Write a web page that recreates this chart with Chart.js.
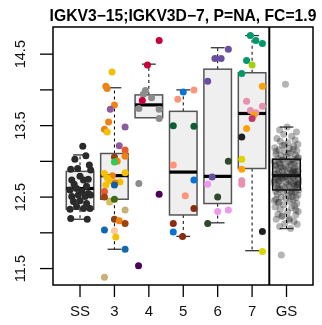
<!DOCTYPE html>
<html>
<head>
<meta charset="utf-8">
<script src="https://cdn.jsdelivr.net/npm/chart.js@4.4.0/dist/chart.umd.min.js"></script>
<style>
html, body { margin: 0; padding: 0; background: #fff; }
#chart { display: block; }
</style>
</head>
<body>
<canvas id="chart" width="322" height="325"></canvas>
<script>
// ---------------------------- Données ----------------------------
const titleText = 'IGKV3\u221215;IGKV3D\u22127, P=NA, FC=1.9';
const categories = ['SS', '3', '4', '5', '6', '7', 'GS'];
const yTicks = [11.5, 12, 12.5, 13, 13.5, 14, 14.5];
const yTickLabels = ['11.5', '', '12.5', '', '13.5', '', '14.5'];

// statistiques des boîtes (moustache basse, Q1, médiane, Q3, moustache haute)
const boxLow = [12.19, 11.77, 13.61, 11.95, 12.14, 11.75, 12.06];
const boxQ1 = [12.33, 12.47, 13.61, 12.25, 12.41, 12.90, 12.60];
const boxMed = [12.62, 12.80, 13.79, 12.85, 12.79, 13.67, 12.80];
const boxQ3 = [12.86, 13.11, 13.93, 13.70, 14.29, 14.24, 13.03];
const boxHigh = [13.09, 14.03, 14.36, 14.00, 14.59, 14.76, 13.48];

// SS
const ssValues = [13.21, 13.03, 13.08, 12.89, 12.90, 12.95, 12.88, 12.74, 12.79, 12.74,
    12.75, 12.68, 12.60, 12.62, 12.58, 12.65, 12.55, 12.51, 12.53, 12.51,
    12.53, 12.44, 12.45, 12.41, 12.33, 12.37, 12.34, 12.34, 12.20, 12.19];
const ssJitter = [0.08, -0.15, 0.17, -0.27, -0.07, 0.27, 0.31, -0.24, 0.00, 0.10,
    0.24, -0.17, -0.29, -0.10, 0.05, 0.19, 0.24, -0.24, -0.05, 0.15,
    0.31, -0.19, 0.00, 0.19, -0.29, -0.10, 0.10, 0.29, -0.27, 0.21];

// groupe 3
const g3Values = [14.25, 14.05, 14.02, 13.79, 13.73, 13.55, 13.45, 13.41, 13.48, 13.22,
    13.16, 13.07, 13.06, 13.00, 12.99, 12.83, 12.84, 12.80, 12.77, 12.73,
    12.71, 12.70, 12.67, 12.67, 12.58, 12.50, 12.43, 12.47, 12.32, 12.19,
    12.17, 12.13, 12.04, 12.03, 11.94, 11.77, 11.38];
const g3Jitter = [-0.07, -0.25, -0.21, 0.00, -0.12, -0.17, -0.29, -0.21, 0.31, 0.14,
    0.31, 0.31, 0.00, 0.08, 0.00, -0.29, 0.31, -0.06, -0.21, -0.14,
    0.16, 0.02, 0.00, -0.25, -0.29, -0.29, -0.14, 0.00, 0.31, 0.00,
    0.14, 0.31, -0.29, 0.00, 0.04, 0.31, -0.29];
const g3Colors = ['#f5c000', '#f08214', '#f08214', '#f08214', '#8e5aa0', '#f08214', '#f08214', '#f5c000', '#8e5aa0', '#8e5aa0',
    '#e85a2a', '#f08214', '#8b4513', '#f08214', '#2ecc55', '#f5c000', '#f5c000', '#f08214', '#f5c000', '#f5c000',
    '#f5c000', '#f08214', '#1060a8', '#f5c000', '#e85a2a', '#a0420a', '#d8be5a', '#3f6b10', '#c8b078', '#8b4513',
    '#f08214', '#a0420a', '#1068b0', '#ffc8a0', '#f5c000', '#1068b0', '#c8b078'];

// groupe 4
const g4Values = [14.69, 14.35, 13.99, 13.94, 13.89, 13.85, 13.74, 13.73, 13.60, 12.69, 12.54, 11.54];
const g4Jitter = [0.30, -0.04, -0.10, -0.16, 0.08, -0.19, -0.29, 0.30, 0.30, -0.29, 0.30, -0.30];
const g4Colors = ['#c8003a', '#c8003a', '#8c8c8c', '#8c8c8c', '#8c8c8c', '#c8003a', '#8c8c8c', '#8c8c8c', '#8c8c8c', '#8c8c8c', '#4a0057', '#4a0057'];

// groupe 5
const g5Values = [13.97, 14.00, 13.87, 13.50, 13.49, 12.95, 12.74, 12.52, 12.34, 12.13, 12.01, 11.95];
const g5Jitter = [0.00, 0.31, -0.16, -0.29, 0.31, -0.29, 0.31, 0.06, 0.31, -0.29, -0.29, -0.02];
const g5Colors = ['#0a72d2', '#ff9478', '#ff9478', '#0a5e32', '#0a5e32', '#ff9478', '#0a72d2', '#ff9478', '#8a2b12', '#8a2b12', '#0a72d2', '#8a2b12'];

// groupe 6
const g6Values = [14.57, 14.44, 14.44, 14.12, 13.00, 12.78, 12.68, 12.50, 12.30, 12.32, 12.13];
const g6Jitter = [0.31, -0.08, 0.10, -0.29, 0.31, -0.16, -0.29, 0.00, 0.00, 0.31, -0.29];
const g6Colors = ['#6a4fa0', '#6a4fa0', '#6a4fa0', '#6a4fa0', '#2f4a2a', '#6a4fa0', '#ee98ee', '#2f4a2a', '#ee98ee', '#ee98ee', '#2f4a2a'];

// groupe 7
const g7Values = [14.76, 14.69, 14.65, 14.41, 14.35, 14.23, 14.05, 13.84, 13.77, 13.71,
    13.68, 13.65, 13.60, 13.46, 13.34, 13.03, 12.89, 12.73, 12.68, 12.02, 11.74];
const g7Jitter = [-0.05, 0.11, 0.30, -0.16, 0.00, -0.30, 0.30, -0.16, 0.30, -0.05,
    0.11, 0.05, 0.00, -0.16, -0.30, -0.30, -0.30, -0.30, -0.30, 0.30, 0.30];
const g7Colors = ['#00996a', '#00996a', '#00996a', '#00996a', '#a0d010', '#00996a', '#ffa00a', '#e890b0', '#e890b0', '#e890b0',
    '#e890b0', '#ffa00a', '#c0396a', '#ffa00a', '#1f1f1f', '#dcd400', '#ffa00a', '#e890b0', '#e890b0', '#1f1f1f', '#dcd400'];

// GS
const gsValues = [12.06, 12.09, 12.12, 12.13, 12.16, 12.19, 12.20, 12.23, 12.25, 12.26,
    12.29, 12.30, 12.33, 12.35, 12.36, 12.38, 12.39, 12.41, 12.43, 12.44,
    12.45, 12.46, 12.48, 12.49, 12.50, 12.52, 12.53, 12.54, 12.55, 12.57,
    12.57, 12.58, 12.59, 12.60, 12.61, 12.61, 12.63, 12.64, 12.64, 12.65,
    12.66, 12.67, 12.67, 12.68, 12.69, 12.70, 12.71, 12.71, 12.72, 12.73,
    12.74, 12.75, 12.75, 12.76, 12.77, 12.78, 12.79, 12.79, 12.80, 12.80,
    12.81, 12.82, 12.82, 12.83, 12.84, 12.85, 12.86, 12.87, 12.87, 12.88,
    12.89, 12.90, 12.91, 12.92, 12.93, 12.93, 12.95, 12.96, 12.97, 12.98,
    12.99, 13.00, 13.01, 13.02, 13.03, 13.04, 13.05, 13.06, 13.08, 13.09,
    13.10, 13.12, 13.13, 13.15, 13.16, 13.18, 13.19, 13.21, 13.22, 13.24,
    13.26, 13.28, 13.30, 13.32, 13.35, 13.38, 13.41, 13.44, 13.48, 14.08,
    11.69, 12.72, 12.86, 12.94, 12.68, 12.77, 12.99, 12.62, 12.84, 12.91,
    12.51, 12.42, 12.32, 12.24, 12.18, 13.14, 13.17, 13.23, 13.05, 12.96,
    12.70, 12.78, 12.83, 12.88, 12.74, 12.66, 13.02, 12.58, 12.47, 13.11];
const gsJitter = [0.12, -0.20, 0.31, -0.05, 0.22, -0.30, 0.08, -0.14, 0.27, -0.25,
    0.03, 0.34, -0.18, 0.15, -0.33, 0.24, -0.08, 0.30, -0.22, 0.10,
    -0.35, 0.19, -0.02, 0.28, -0.16, 0.06, 0.33, -0.27, 0.14, -0.09,
    0.25, -0.31, 0.01, 0.36, -0.19, 0.17, -0.06, 0.29, -0.24, 0.09,
    -0.13, 0.32, -0.29, 0.04, 0.21, -0.36, 0.13, -0.01, 0.26, -0.20,
    0.07, -0.26, 0.35, -0.11, 0.18, -0.32, 0.23, -0.04, 0.11, -0.17,
    0.30, -0.07, -0.34, 0.16, 0.02, 0.27, -0.23, 0.34, -0.12, 0.20,
    -0.28, 0.05, 0.24, -0.15, 0.33, -0.03, -0.30, 0.14, 0.22, -0.21,
    0.10, -0.36, 0.28, -0.10, 0.18, -0.25, 0.35, 0.00, -0.16, 0.26,
    -0.31, 0.12, -0.05, 0.30, -0.22, 0.08, -0.34, 0.21, -0.12, 0.33,
    0.04, -0.18, 0.25, -0.28, 0.15, -0.08, 0.29, -0.20, 0.02, -0.03,
    -0.15, -0.23, 0.19, -0.33, 0.31, -0.14, 0.06, -0.26, 0.23, -0.09,
    0.16, -0.24, 0.27, -0.12, 0.08, -0.30, 0.20, -0.06, 0.32, -0.19,
    0.35, -0.02, -0.27, 0.11, -0.35, 0.24, -0.13, 0.17, -0.31, 0.05];

// ---------------------------- Construction des points ----------------------------
function toPoints(index, values, jitter) {
    return values.map((v, k) => ({ x: index + jitter[k], y: v }));
}

const groups = [
    { values: ssValues, jitter: ssJitter, colors: '#2a2a2a' },
    { values: g3Values, jitter: g3Jitter, colors: g3Colors },
    { values: g4Values, jitter: g4Jitter, colors: g4Colors },
    { values: g5Values, jitter: g5Jitter, colors: g5Colors },
    { values: g6Values, jitter: g6Jitter, colors: g6Colors },
    { values: g7Values, jitter: g7Jitter, colors: g7Colors },
    { values: gsValues, jitter: gsJitter, colors: 'rgba(30, 30, 30, 0.33)' }
];

const FONT = '"Liberation Sans", Arial, Helvetica, sans-serif';

function line(ctx, x1, y1, x2, y2) {
    ctx.beginPath();
    ctx.moveTo(x1, y1);
    ctx.lineTo(x2, y2);
    ctx.stroke();
}

// ---------------------------- Boîtes à moustaches ----------------------------
const boxPlugin = {
    id: 'boxes',
    beforeDatasetsDraw(chart) {
        const { ctx, scales: { x, y } } = chart;
        ctx.save();
        categories.forEach((cat, i) => {
            const xl = x.getPixelForValue(i - 0.4);
            const xr = x.getPixelForValue(i + 0.4);
            const xc = x.getPixelForValue(i);
            const cl = x.getPixelForValue(i - 0.2);
            const cr = x.getPixelForValue(i + 0.2);
            const yLow = y.getPixelForValue(boxLow[i]);
            const yQ1 = y.getPixelForValue(boxQ1[i]);
            const yMed = y.getPixelForValue(boxMed[i]);
            const yQ3 = y.getPixelForValue(boxQ3[i]);
            const yHigh = y.getPixelForValue(boxHigh[i]);

            // moustaches
            ctx.strokeStyle = '#000';
            ctx.lineWidth = 1;
            ctx.setLineDash([3, 3]);
            if (yHigh < yQ3) line(ctx, xc, yQ3, xc, yHigh);
            if (yLow > yQ1) line(ctx, xc, yQ1, xc, yLow);
            ctx.setLineDash([]);
            ctx.strokeStyle = '#333';
            ctx.lineWidth = 1.3;
            if (yHigh < yQ3) line(ctx, cl, yHigh, cr, yHigh);
            if (yLow > yQ1) line(ctx, cl, yLow, cr, yLow);

            // boîte
            if (cat !== 'GS') {
                ctx.fillStyle = '#efefef';
                ctx.fillRect(xl, yQ3, xr - xl, yQ1 - yQ3);
            }
            ctx.strokeStyle = cat === 'GS' ? '#000' : '#555';
            ctx.lineWidth = 1.5;
            ctx.strokeRect(xl, yQ3, xr - xl, yQ1 - yQ3);

            // médiane
            ctx.strokeStyle = '#000';
            ctx.lineWidth = 3.2;
            line(ctx, xl, yMed, xr, yMed);
        });
        ctx.restore();
    }
};

// ---------------------------- Axes, cadre et titre (style R) ----------------------------
const axesPlugin = {
    id: 'axesR',
    afterDraw(chart) {
        const { ctx, chartArea: a, scales: { x, y } } = chart;
        ctx.save();
        ctx.strokeStyle = '#000';
        ctx.fillStyle = '#111';

        // cadre
        ctx.lineWidth = 1.5;
        ctx.strokeRect(a.left, a.top, a.right - a.left, a.bottom - a.top);

        // séparation avant GS
        const xSep = x.getPixelForValue(categories.length - 1.5);
        ctx.lineWidth = 2;
        line(ctx, xSep, a.top, xSep, a.bottom);

        // axe y
        ctx.lineWidth = 1.3;
        ctx.font = '14.5px ' + FONT;
        ctx.textAlign = 'center';
        ctx.textBaseline = 'alphabetic';
        yTicks.forEach((t, k) => {
            const py = y.getPixelForValue(t);
            line(ctx, a.left - 13, py, a.left, py);
            if (yTickLabels[k]) {
                ctx.save();
                ctx.translate(a.left - 28, py);
                ctx.rotate(-Math.PI / 2);
                ctx.fillText(yTickLabels[k], 0, 0);
                ctx.restore();
            }
        });

        // axe x
        ctx.font = '15px ' + FONT;
        categories.forEach((cat, i) => {
            const px = x.getPixelForValue(i);
            line(ctx, px, a.bottom, px, a.bottom + 12);
            ctx.fillText(cat, px, a.bottom + 31);
        });

        // titre
        ctx.fillStyle = '#000';
        ctx.font = 'bold 15.7px ' + FONT;
        ctx.fillText(titleText, (a.left + a.right) / 2, 20.5);
        ctx.restore();
    }
};

// ---------------------------- Graphique ----------------------------
new Chart(document.getElementById('chart'), {
    type: 'scatter',
    data: {
        datasets: groups.map((g, i) => ({
            data: toPoints(i, g.values, g.jitter),
            pointBackgroundColor: g.colors,
            pointBorderWidth: 0,
            pointRadius: 3.5,
            pointHoverRadius: 3.5,
            clip: false
        }))
    },
    options: {
        responsive: false,
        animation: false,
        devicePixelRatio: 1,
        layout: { autoPadding: false, padding: { left: 53, right: 9, top: 27, bottom: 40 } },
        scales: {
            x: { type: 'linear', min: -0.785, max: 6.77, display: false },
            y: { type: 'linear', min: 11.27, max: 14.88, display: false }
        },
        plugins: {
            legend: { display: false },
            tooltip: { enabled: false }
        }
    },
    plugins: [boxPlugin, axesPlugin]
});
</script>
</body>
</html>
